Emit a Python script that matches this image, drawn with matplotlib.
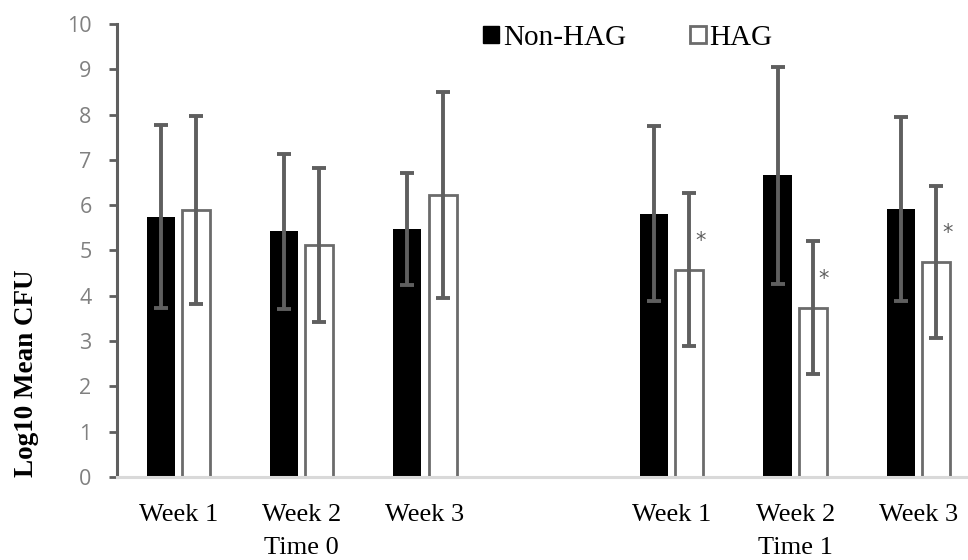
import matplotlib
matplotlib.use("Agg")
import matplotlib.pyplot as plt
from matplotlib.patches import Patch
import numpy as np

categories = ["Week 1", "Week 2", "Week 3", "", "Week 1", "Week 2", "Week 3"]
groups = ["Time 0", "Time 1"]
non_hag = [5.75, 5.42, 5.47, np.nan, 5.81, 6.66, 5.92]
non_hag_err = [2.02, 1.72, 1.24, np.nan, 1.93, 2.40, 2.03]
hag = [5.89, 5.12, 6.22, np.nan, 4.58, 3.74, 4.75]
hag_err = [2.07, 1.70, 2.27, np.nan, 1.69, 1.46, 1.68]
significant = [False, False, False, False, True, True, True]
yticks = list(range(0, 11))

W, H = 968, 560
PT = 72 / 100  # points per pixel at dpi 100
fig = plt.figure(figsize=(W / 100, H / 100), dpi=100)
ax = fig.add_axes([116.6 / W, (H - 477) / H, 863.6 / W, 453 / H])

x = np.arange(len(categories))
bw = 0.228
off = 0.143
ecol = "#5f5f5f"

ax.bar(x - off, non_hag, bw, color="black", edgecolor="black", linewidth=0, zorder=2)
ax.bar(x + off, hag, bw, color="white", edgecolor="#6b6b6b", linewidth=2.0, zorder=2)
ekw = dict(fmt="none", ecolor=ecol, elinewidth=2.8, capsize=4.7, capthick=2.8, zorder=3)
ax.errorbar(x - off, non_hag, yerr=non_hag_err, **ekw)
ax.errorbar(x + off, hag, yerr=hag_err, **ekw)

for xi, v, s in zip(x, hag, significant):
    if s:
        ax.annotate("*", xy=(xi + off, v), xytext=(11 * PT, 29 * PT), textcoords="offset points",
                    ha="center", va="center", fontsize=15, color=ecol,
                    family="DejaVu Sans")

ax.set_xlim(-0.5, len(categories) - 0.5)
ax.set_ylim(0, 10)
ax.set_yticks(yticks)
ax.set_yticklabels([str(t) for t in yticks], family="Open Sans", fontsize=15.5, color="#808080")
ax.tick_params(axis="y", direction="out", length=8 * PT, width=2, color=ecol, pad=17 * PT)
ax.set_xticks([])
for s in ["top", "right"]:
    ax.spines[s].set_visible(False)
ax.spines["left"].set_color(ecol)
ax.spines["left"].set_linewidth(2.2)
ax.spines["bottom"].set_color("#d9d9d9")
ax.spines["bottom"].set_linewidth(2.2)

for xi, c in zip(x, categories):
    if c:
        ax.annotate(c, xy=(xi, 0), xycoords=("data", "axes fraction"), xytext=(0, -38 * PT),
                    textcoords="offset points", ha="center", va="center",
                    family="Liberation Serif", fontsize=19, color="black")
for gi, g in enumerate(groups):
    ax.annotate(g, xy=(1 + 4 * gi, 0), xycoords=("data", "axes fraction"), xytext=(0, -71 * PT),
                textcoords="offset points", ha="center", va="center",
                family="Liberation Serif", fontsize=19, color="black")

fig.text(27 / W, 1 - 373 / H, "Log10 Mean CFU", rotation=90, ha="center", va="center",
         family="Liberation Serif", fontsize=19.5, fontweight="bold")

handles = [Patch(facecolor="black", edgecolor="black", label="Non-HAG"),
           Patch(facecolor="white", edgecolor="#6b6b6b", linewidth=2, label="HAG")]
fig.legend(handles=handles, loc="center", bbox_to_anchor=(628 / W, 1 - 38 / H), ncol=2,
           frameon=False, prop=dict(family="Liberation Serif", size=21),
           handlelength=0.55, handleheight=0.55, handletextpad=0.12, columnspacing=2.2)

fig.savefig("out.png", dpi=100)
